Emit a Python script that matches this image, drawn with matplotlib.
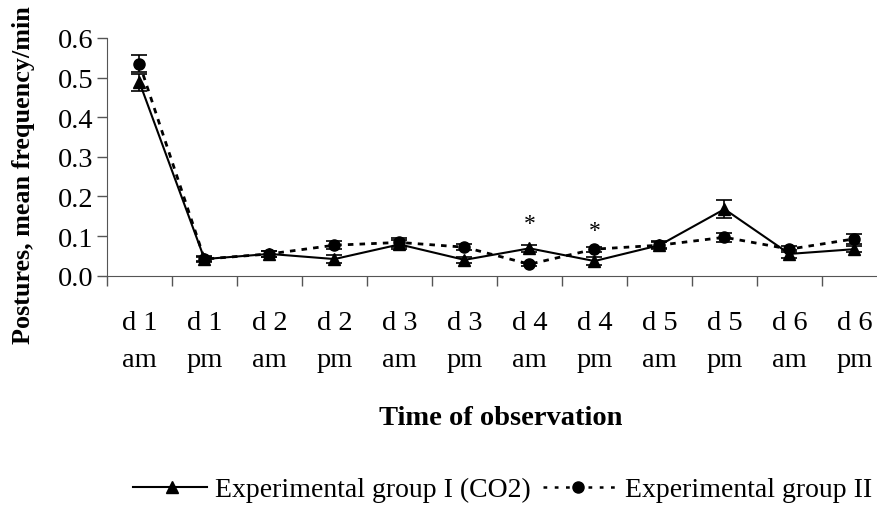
import matplotlib
matplotlib.use("Agg")
import matplotlib.pyplot as plt
from matplotlib.lines import Line2D
import numpy as np

plt.rcParams['font.family'] = ['Liberation Serif', 'DejaVu Serif']

categories = ["d 1\nam", "d 1\npm", "d 2\nam", "d 2\npm", "d 3\nam", "d 3\npm",
              "d 4\nam", "d 4\npm", "d 5\nam", "d 5\npm", "d 6\nam", "d 6\npm"]
group1 = [0.488, 0.042, 0.055, 0.042, 0.079, 0.040, 0.069, 0.037, 0.077, 0.168, 0.055, 0.067]
group1_err = [0.022, 0.008, 0.008, 0.010, 0.012, 0.008, 0.008, 0.010, 0.010, 0.022, 0.010, 0.008]
group2 = [0.535, 0.042, 0.055, 0.077, 0.084, 0.072, 0.029, 0.067, 0.077, 0.097, 0.067, 0.093]
group2_err = [0.022, 0.006, 0.008, 0.010, 0.012, 0.008, 0.004, 0.006, 0.008, 0.012, 0.008, 0.012]
star_idx = [6, 7]
star_y = [0.131, 0.113]
legend_labels = ["Experimental group I (CO2)", "Experimental group II"]

W, H = 878, 506
fig = plt.figure(figsize=(W / 100, H / 100), dpi=100)
ax = fig.add_axes([107 / W, (H - 276.7) / H, 780 / W, (276.7 - 39) / H])

x = np.arange(len(categories)) + 0.5
dot_style = (0, (2, 2.2))

ax.errorbar(x, group2, yerr=group2_err, color='black', linestyle=dot_style, linewidth=2,
            marker='o', markersize=8, capsize=6, elinewidth=1.2, capthick=1.2, zorder=3)
ax.errorbar(x, group1, yerr=group1_err, color='black', linestyle='-', linewidth=1.5,
            marker='^', markersize=9, capsize=6, elinewidth=1.2, capthick=1.2, zorder=4)

for i, yv in zip(star_idx, star_y):
    ax.text(x[i], yv, "*", ha='center', va='center', fontsize=17)

ax.set_xlim(0, len(categories))
ax.set_ylim(0, 0.6)
yt = np.arange(0, 0.61, 0.1)
ax.set_yticks(yt)
ax.set_yticklabels([f"{v:.1f}" for v in yt], fontsize=20.5)
ax.set_xticks(np.arange(0, len(categories) + 1))
ax.set_xticklabels([])
ax.set_xticks(x, minor=True)
ax.set_xticklabels(categories, minor=True, fontsize=20.5, linespacing=1.6)
ax.tick_params(axis='x', which='major', direction='out', length=7, width=1, color='#555555')
ax.tick_params(axis='x', which='minor', length=0, pad=25)
ax.tick_params(axis='y', direction='out', length=7, width=1, color='#555555', pad=3)

for s in ['top', 'right']:
    ax.spines[s].set_visible(False)
ax.spines['left'].set_color('#555555')
ax.spines['bottom'].set_color('#555555')

fig.text(24 / W, 1 - 175 / H, "Postures, mean frequency/min", rotation=90, fontsize=18.8,
         fontweight='bold', ha='center', va='center')
fig.text(501 / W, 1 - 425 / H, "Time of observation", fontsize=20.5, fontweight='bold',
         ha='center', va='baseline')

# legend drawn by hand to match the differing handle lengths
ly = 1 - 488 / H
fig.add_artist(Line2D([133 / W, 207 / W], [ly, ly], transform=fig.transFigure,
                      color='black', linewidth=1.5))
fig.add_artist(Line2D([172 / W], [ly], transform=fig.transFigure, color='black',
                      marker='^', markersize=9, linestyle='none'))
fig.text(215 / W, 1 - 497 / H, legend_labels[0], fontsize=20, ha='left', va='baseline')
fig.add_artist(Line2D([543 / W, 615 / W], [ly, ly], transform=fig.transFigure,
                      color='black', linewidth=1.8, linestyle=(0, (1.5, 3))))
fig.add_artist(Line2D([578 / W], [ly], transform=fig.transFigure, color='black',
                      marker='o', markersize=8, linestyle='none'))
fig.text(625 / W, 1 - 497 / H, legend_labels[1], fontsize=20, ha='left', va='baseline')

fig.savefig("out.png", dpi=100)
